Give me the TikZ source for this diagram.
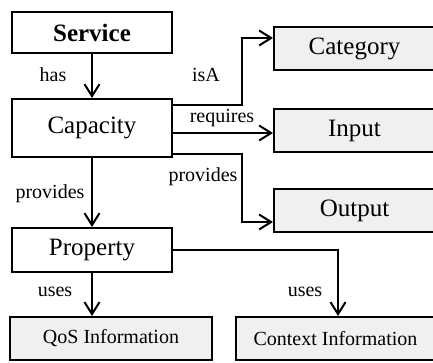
\documentclass[tikz,border=0pt]{standalone}
\usepackage{fontspec}
\setmainfont{Liberation Serif}
\usetikzlibrary{arrows.meta}
\definecolor{boxgray}{HTML}{F0F0F0}
\tikzset{
  box/.style={draw=black, line width=2pt, fill=white, inner sep=0pt, font=\fontsize{25}{29}\selectfont},
  graybox/.style={box, fill=boxgray},
  smallbox/.style={graybox, font=\fontsize{20}{24}\selectfont},
  conn/.style={line width=2pt, -{Straight Barb[length=12pt,width=15pt,line width=2pt]}},
  lbl/.style={inner sep=0pt, font=\fontsize{20}{24}\selectfont}
}
\begin{document}
\begin{tikzpicture}[x=1pt,y=-1pt]
\useasboundingbox (0,0) rectangle (433,362);
\clip (0,0) rectangle (433,362);
% boxes
\node[box, minimum width=160pt, minimum height=41pt] (Service) at (92,32.5) {\textbf{Service}};
\node[box, minimum width=160pt, minimum height=58pt] (Capacity) at (92,128) {Capacity};
\node[box, minimum width=160pt, minimum height=44pt] (Property) at (92,250) {Property};
\node[graybox, minimum width=161pt, minimum height=43pt] (Category) at (354.5,48.5) {Category};
\node[graybox, minimum width=161pt, minimum height=43pt] (Input) at (354.5,130.5) {Input};
\node[graybox, minimum width=161pt, minimum height=43pt] (Output) at (354.5,210.5) {Output};
\node[smallbox, minimum width=202pt, minimum height=43pt] (QoS) at (111,338.5) {QoS Information};
\node[smallbox, minimum width=199pt, minimum height=43pt] (Context) at (335.5,338.5) {Context Information};
% connectors
\draw[conn] (Service.south) -- (Capacity.north);
\draw[conn] ([yshift=23pt]Capacity.east) -| ([xshift=-31pt,yshift=10.5pt]Category.west) -- ([yshift=10.5pt]Category.west);
\coordinate (inA) at ([yshift=-2.5pt]Input.west);
\draw[conn] (inA -| Capacity.east) -- (inA);
\draw[conn] ([yshift=-26pt]Capacity.east) -| ([xshift=-31pt,yshift=-11.5pt]Output.west) -- ([yshift=-11.5pt]Output.west);
\draw[conn] (Capacity.south) -- (Property.north);
\draw[conn] (Property.south -| QoS.north) ++(-19,0) coordinate (qs) -- (qs |- QoS.north);
\draw[conn] (Property.east) -| ([xshift=2.5pt]Context.north);
% labels
\node[lbl] (lhas) at (53,75) {has};
\node[lbl] (lisa) at (206,75) {isA};
\node[lbl] (lreq) at (222,118) {requires};
\node[lbl] (lprov2) at (203,177) {provides};
\node[lbl] (lprov1) at (50,194) {provides};
\node[lbl] (luses1) at (55,292) {uses};
\node[lbl] (luses2) at (305,292) {uses};
\end{tikzpicture}
\end{document}
